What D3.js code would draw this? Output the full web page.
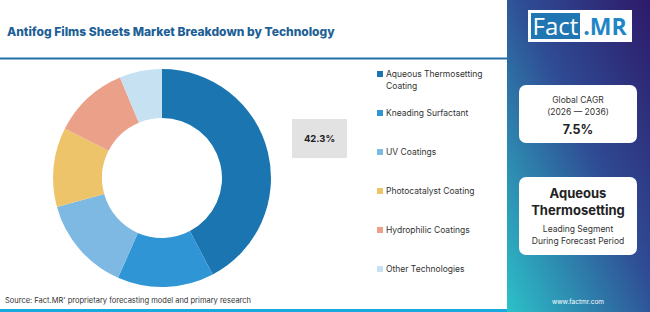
<!DOCTYPE html>
<html>
<head>
<meta charset="utf-8">
<script src="https://cdn.jsdelivr.net/npm/d3@7"></script>
<style>
  body { margin: 0; background: #fff; }
  svg { display: block; font-family: "Inter", "Open Sans", sans-serif; }
</style>
</head>
<body>
<div id="chart"></div>
<script>
// chart values
const categories = ["Aqueous Thermosetting Coating", "Kneading Surfactant", "UV Coatings",
    "Photocatalyst Coating", "Hydrophilic Coatings", "Other Technologies"];
const shares = [42.3, 14.3, 14.1, 11.8, 11.2, 6.3];
const colors = ["#1b75b1", "#2f95d5", "#7db9e2", "#eec46b", "#eba08a", "#c5e1f2"];
const legendLines = [["Aqueous Thermosetting", "Coating"], ["Kneading Surfactant"], ["UV Coatings"],
    ["Photocatalyst Coating"], ["Hydrophilic Coatings"], ["Other Technologies"]];
const title = "Antifog Films Sheets Market Breakdown by Technology";
const cagrLabel = ["Global CAGR", "(2026 \u2014 2036)"];
const cagrValue = "7.5%";
const leadName = ["Aqueous", "Thermosetting"];
const leadNote = ["Leading Segment", "During Forecast Period"];

const width = 650, height = 312;
const svg = d3.select("#chart").append("svg")
    .attr("width", width).attr("height", height);

// right panel gradient
const defs = svg.append("defs");
const grad = defs.append("linearGradient").attr("id", "side")
    .attr("x1", "100%").attr("y1", "0%").attr("x2", "0%").attr("y2", "100%");
grad.append("stop").attr("offset", "0%").attr("stop-color", "#2d1a6a");
grad.append("stop").attr("offset", "45%").attr("stop-color", "#2f4c94");
grad.append("stop").attr("offset", "100%").attr("stop-color", "#2cc1c9");

svg.append("rect").attr("x", 507).attr("y", 0).attr("width", 143).attr("height", height)
    .attr("fill", "url(#side)");

// title
svg.append("text").attr("x", 7).attr("y", 36)
    .attr("font-size", 12).attr("font-weight", 800).attr("fill", "#1d5f96")
    .text(title);
svg.append("rect").attr("x", 0).attr("y", 57.5).attr("width", 507).attr("height", 2)
    .attr("fill", "#2470a8");

// bottom bar + source
svg.append("rect").attr("x", 0).attr("y", 309).attr("width", 507).attr("height", 3)
    .attr("fill", "#1aa9de");
svg.append("text").attr("x", 5).attr("y", 303)
    .attr("font-size", 7.5).attr("fill", "#333")
    .text("Source: Fact.MR' proprietary forecasting model and primary research");

// donut
const cx = 162, cy = 178, rOuter = 109, rInner = 60;
const pie = d3.pie().sort(null).value(d => d);
const arc = d3.arc().innerRadius(rInner).outerRadius(rOuter);
const g = svg.append("g").attr("transform", `translate(${cx},${cy})`);
g.selectAll("path")
    .data(pie(shares))
    .join("path")
    .attr("d", arc)
    .attr("fill", (d, i) => colors[i]);

// highlighted value box
const box = svg.append("g").attr("transform", "translate(292,119)");
box.append("rect").attr("width", 55).attr("height", 39).attr("fill", "#e2e2e2");
box.append("text").attr("x", 27.5).attr("y", 23)
    .attr("text-anchor", "middle").attr("font-size", 9.5).attr("font-weight", 700)
    .attr("fill", "#222").text(shares[0].toFixed(1) + "%");

// legend
const ly = d3.scalePoint().domain(categories).range([77, 272]);
const leg = svg.append("g").selectAll("g")
    .data(categories)
    .join("g")
    .attr("transform", d => `translate(377,${ly(d)})`);
leg.append("rect").attr("x", 0).attr("y", -6).attr("width", 6).attr("height", 6)
    .attr("fill", (d, i) => colors[i]);
leg.append("text")
    .attr("font-size", 8.5).attr("fill", "#333")
    .selectAll("tspan")
    .data((d, i) => legendLines[i])
    .join("tspan")
    .attr("x", 9).attr("dy", (d, j) => j === 0 ? 0 : 12)
    .text(d => d);

// logo
const logo = svg.append("g").attr("transform", "translate(528,10)");
logo.append("rect").attr("width", 104).attr("height", 32).attr("fill", "#fff");
logo.append("rect").attr("x", 3).attr("y", 3).attr("width", 49).attr("height", 26).attr("fill", "#1f76b2");
logo.append("text").attr("x", 27.5).attr("y", 25).attr("text-anchor", "middle")
    .attr("font-size", 24).attr("fill", "#fff").attr("font-family", "Open Sans, sans-serif")
    .text("Fact");
logo.append("text").attr("x", 77).attr("y", 25).attr("text-anchor", "middle")
    .attr("font-size", 23).attr("font-weight", 700).attr("fill", "#1f86c6")
    .attr("font-family", "Open Sans, sans-serif")
    .text(".MR");

// cards
function card(y, h) {
    svg.append("rect").attr("x", 519).attr("y", y).attr("width", 118).attr("height", h)
        .attr("rx", 7).attr("fill", "#fff");
}
card(85, 58);
card(177, 78);

svg.append("g").selectAll("text").data(cagrLabel).join("text")
    .attr("x", 578).attr("y", (d, i) => 103 + i * 12)
    .attr("text-anchor", "middle").attr("font-size", 8.5).attr("fill", "#333")
    .text(d => d);
svg.append("text").attr("x", 578).attr("y", 134)
    .attr("text-anchor", "middle").attr("font-size", 12.5).attr("font-weight", 700)
    .attr("fill", "#222").text(cagrValue);

svg.append("g").selectAll("text").data(leadName).join("text")
    .attr("x", 578).attr("y", (d, i) => 198 + i * 17)
    .attr("text-anchor", "middle").attr("font-size", 13).attr("font-weight", 700)
    .attr("fill", "#222").text(d => d);
svg.append("g").selectAll("text").data(leadNote).join("text")
    .attr("x", 578).attr("y", (d, i) => 232 + i * 12)
    .attr("text-anchor", "middle").attr("font-size", 8.5).attr("fill", "#333")
    .text(d => d);

svg.append("text").attr("x", 578).attr("y", 304)
    .attr("text-anchor", "middle").attr("font-size", 6.5).attr("fill", "#fff")
    .text("www.factmr.com");
</script>
</body>
</html>
